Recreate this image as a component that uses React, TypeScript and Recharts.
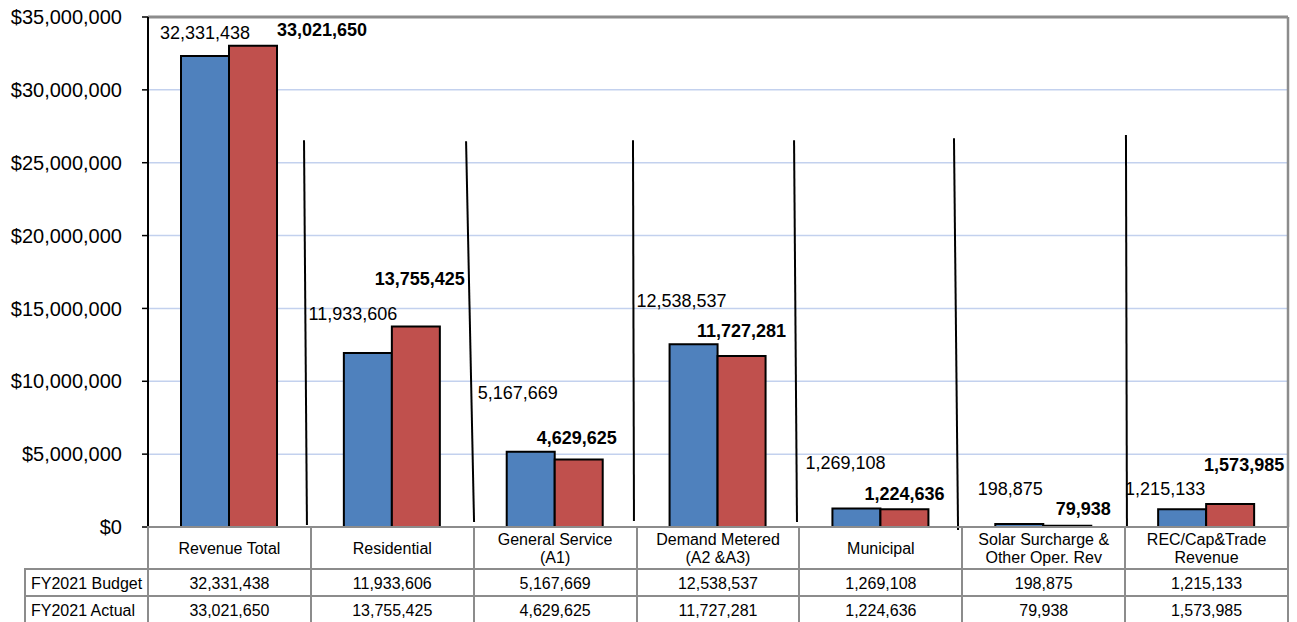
import { BarChart, Bar, XAxis, YAxis, CartesianGrid, ReferenceLine, LabelList } from 'recharts';

const categories = [
    'Revenue Total',
    'Residential',
    'General Service\n(A1)',
    'Demand Metered\n(A2 &A3)',
    'Municipal',
    'Solar Surcharge &\nOther Oper. Rev',
    'REC/Cap&Trade\nRevenue',
];
const budget = [32331438, 11933606, 5167669, 12538537, 1269108, 198875, 1215133];
const actual = [33021650, 13755425, 4629625, 11727281, 1224636, 79938, 1573985];
const seriesNames = ['FY2021 Budget', 'FY2021 Actual'];
const yTicks = [0, 5000000, 10000000, 15000000, 20000000, 25000000, 30000000, 35000000];

// labels in the original were dragged by hand: [dx, dy] from the top centre of each bar
const budgetNudge = [[0, -23], [-15, -39], [-13, -59], [-12, -43], [-11, -46], [-9, -35], [-17, -20]];
const actualNudge = [[69, -16], [4, -48], [-2, -22], [0, -25], [0, -15], [16, -17], [14, -39]];

// stray divider strokes between categories, on a 0..7 slot axis: [xTop, xBottom, yTop, yBottom]
const dividers = [
    [0.958, 0.976, 26540000, 140000],
    [1.953, 2.002, 26470000, 340000],
    [2.978, 2.984, 26540000, 410000],
    [3.967, 3.985, 26540000, 340000],
    [4.949, 4.974, 26680000, -200000],
    [6.005, 6.011, 26900000, -70000],
];

const data = categories.map((name, i) => ({ name, slot: i + 0.5, budget: budget[i], actual: actual[i] }));

const FONT = '"Liberation Sans", Arial, sans-serif';
const GRAY = '#8c8c8c';
const fmt = (v: number) => v.toLocaleString('en-US');

const makeLabel = (nudge: number[][], bold: boolean) => (props: any) => {
    const { x, y, width, value, index } = props;
    const [dx, dy] = nudge[index];
    return (
        <text
            x={x + width / 2 + dx}
            y={y + dy}
            textAnchor="middle"
            dominantBaseline="central"
            fontSize={18}
            fontWeight={bold ? 'bold' : 'normal'}
            fontFamily={FONT}
            fill="#000"
        >
            {fmt(value)}
        </text>
    );
};

const PLOT_LEFT = 148;
const PLOT_RIGHT = 1289;
const colW = (PLOT_RIGHT - 1 - PLOT_LEFT) / categories.length;
const rowTops = [526, 568, 595];
const rowHeights = [44, 29, 29];

const cellStyle = (left: number, top: number, width: number, height: number, last: boolean): React.CSSProperties => ({
    position: 'absolute',
    left,
    top,
    width,
    height,
    boxSizing: 'border-box',
    borderLeft: `2px solid ${GRAY}`,
    borderTop: `2px solid ${GRAY}`,
    borderRight: last ? `2px solid ${GRAY}` : undefined,
    display: 'flex',
    alignItems: 'center',
    justifyContent: 'center',
    textAlign: 'center',
    fontSize: 16,
    lineHeight: '18px',
    whiteSpace: 'pre-line',
    color: '#000',
});

const DataTable = () => {
    const rows = [budget, actual];
    const n = categories.length;
    return (
        <>
            {categories.map((c, i) => (
                <div key={'h' + i} style={cellStyle(PLOT_LEFT - 1 + i * colW, rowTops[0], colW + (i === n - 1 ? 2 : 0), rowHeights[0], i === n - 1)}>
                    {c}
                </div>
            ))}
            {rows.map((vals, r) => (
                <div key={'r' + r}>
                    <div style={{ ...cellStyle(24, rowTops[r + 1], PLOT_LEFT - 1 - 24, rowHeights[r + 1], false), justifyContent: 'flex-start', paddingLeft: 5 }}>
                        {seriesNames[r]}
                    </div>
                    {vals.map((v, i) => (
                        <div key={i} style={cellStyle(PLOT_LEFT - 1 + i * colW, rowTops[r + 1], colW + (i === n - 1 ? 2 : 0), rowHeights[r + 1], i === n - 1)}>
                            {fmt(v)}
                        </div>
                    ))}
                </div>
            ))}
        </>
    );
};

const App = () => {
    return (
        <div style={{ position: 'absolute', left: 0, top: 0, width: 1297, height: 622, background: '#fff', fontFamily: FONT }}>
            <BarChart width={1297} height={622} data={data} margin={{ top: 17, right: 9, bottom: 95, left: 8 }} barGap={0} barSize={48}>
                <CartesianGrid vertical={false} stroke="#c3d1ee" strokeWidth={1.5} />
                <XAxis dataKey="name" hide />
                <XAxis xAxisId="slot" dataKey="slot" type="number" domain={[0, 7]} hide allowDataOverflow />
                <YAxis
                    width={140}
                    domain={[0, 35000000]}
                    ticks={yTicks}
                    interval={0}
                    tickFormatter={(v: number) => '$' + fmt(v)}
                    tick={{ fill: '#000', fontSize: 20, fontFamily: FONT }}
                    tickSize={6}
                    tickMargin={20}
                    axisLine={{ stroke: '#000', strokeWidth: 2 }}
                    tickLine={{ stroke: '#000', strokeWidth: 1.5 }}
                />
                <ReferenceLine y={35000000} stroke={GRAY} strokeWidth={3} />
                <ReferenceLine xAxisId="slot" x={7} stroke={GRAY} strokeWidth={2.5} ifOverflow="visible" />
                {dividers.map((d, i) => (
                    <ReferenceLine
                        key={i}
                        xAxisId="slot"
                        ifOverflow="visible"
                        segment={[{ x: d[0], y: d[2] }, { x: d[1], y: d[3] }]}
                        stroke="#000"
                        strokeWidth={2}
                    />
                ))}
                <Bar dataKey="budget" name={seriesNames[0]} fill="#4f81bd" stroke="#000" strokeWidth={2} isAnimationActive={false}>
                    <LabelList dataKey="budget" content={makeLabel(budgetNudge, false)} />
                </Bar>
                <Bar dataKey="actual" name={seriesNames[1]} fill="#c0504d" stroke="#000" strokeWidth={2} isAnimationActive={false}>
                    <LabelList dataKey="actual" content={makeLabel(actualNudge, true)} />
                </Bar>
            </BarChart>
            <DataTable />
        </div>
    );
};

export default App;
